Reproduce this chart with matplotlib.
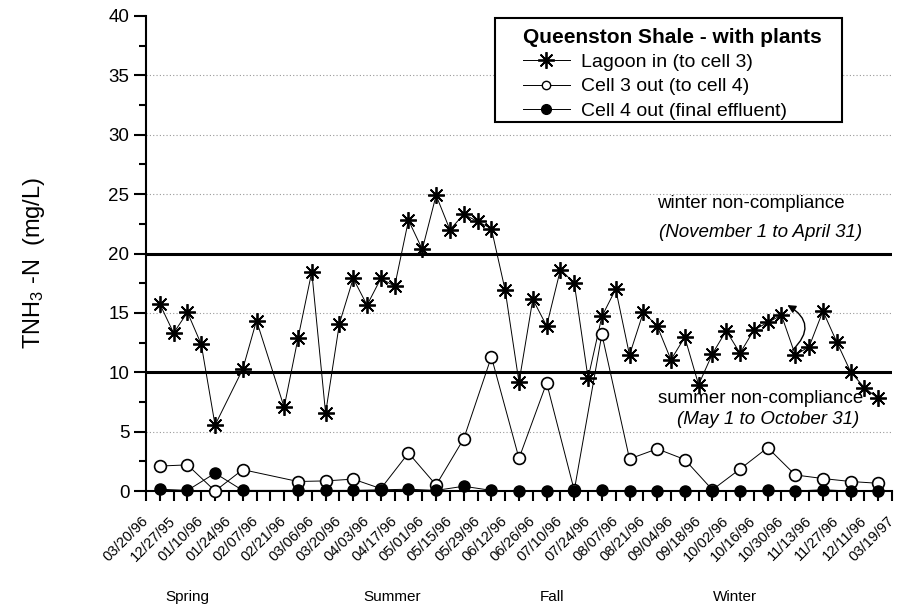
import matplotlib
matplotlib.use("Agg")
import matplotlib.pyplot as plt
from matplotlib.lines import Line2D
from matplotlib.patches import Rectangle

plt.rcParams['font.family'] = ['Liberation Sans', 'DejaVu Sans']
plt.rcParams['mathtext.default'] = 'regular'

# x tick labels (major ticks, every 2 weeks, starting one week before first sample)
date_labels = ["03/20/96", "12/27/95", "01/10/96", "01/24/96", "02/07/96", "02/21/96",
               "03/06/96", "03/20/96", "04/03/96", "04/17/96", "05/01/96", "05/15/96",
               "05/29/96", "06/12/96", "06/26/96", "07/10/96", "07/24/96", "08/07/96",
               "08/21/96", "09/04/96", "09/18/96", "10/02/96", "10/16/96", "10/30/96",
               "11/13/96", "11/27/96", "12/11/96", "03/19/97"]
seasons = ["Spring", "Summer", "Fall", "Winter"]

# lagoon in - weekly samples (week index)
lagoon_week = [0, 1, 2, 3, 4, 6, 7] + list(range(9, 53))
lagoon_in = [15.75, 13.3, 15.05, 12.35, 5.55, 10.25, 14.35,
             7.05, 12.85, 18.45, 6.55, 14.1, 17.9, 15.65, 17.9, 17.25, 22.8,
             20.35, 24.9, 22.0, 23.3, 22.7, 22.1, 16.9, 9.15, 16.15, 13.9,
             18.65, 17.5, 9.5, 14.7, 17.0, 11.45, 15.05, 13.9, 11.05, 12.95,
             8.95, 11.55, 13.5, 11.6, 13.55, 14.2, 14.8, 11.45, 12.15, 15.15,
             12.55, 10.05, 8.7, 7.8]

# cells - biweekly samples
cell_week = [0, 2, 4, 6] + list(range(10, 53, 2))
cell3_out = [2.1, 2.2, 0.0, 1.8, 0.8, 0.85, 1.0, 0.2, 3.2, 0.5, 4.4, 11.3, 2.75,
             9.1, 0.05, 13.2, 2.7, 3.55, 2.65, 0.1, 1.85, 3.65, 1.35, 1.05, 0.8, 0.65]
cell4_out = [0.15, 0.05, 1.5, 0.05, 0.05, 0.05, 0.05, 0.1, 0.15, 0.05, 0.4, 0.05, 0.0,
             0.0, 0.0, 0.05, 0.0, 0.0, 0.0, 0.0, 0.0, 0.05, 0.0, 0.1, 0.0, 0.0]

summer_limit = 10
winter_limit = 20

fig = plt.figure(figsize=(9.11, 6.11), dpi=100)
ax = fig.add_axes([146/911, 120/611, 746/911, 475/611])

star = (8, 2, 0)
ax.plot(lagoon_week, lagoon_in, color='black', lw=0.7, marker=star, ms=12, mew=1.3,
        clip_on=False, zorder=4)
ax.plot(cell_week, cell3_out, color='black', lw=0.7, marker='o', ms=8.5, mfc='white',
        mec='black', mew=1.2, clip_on=False, zorder=5)
ax.plot(cell_week, cell4_out, color='black', lw=0.7, marker='o', ms=8, mfc='black',
        mec='black', clip_on=False, zorder=6)

ax.set_xlim(-1, 53)
ax.set_ylim(0, 40)

# grid + compliance lines
for g in [5, 15, 25, 30, 35]:
    ax.axhline(g, color='#999999', lw=0.8, ls=(0, (1, 2)), zorder=1)
ax.axhline(summer_limit, color='black', lw=2.2, zorder=3)
ax.axhline(winter_limit, color='black', lw=2.2, zorder=3)

ax.spines['top'].set_visible(False)
ax.spines['right'].set_visible(False)
ax.spines['left'].set_linewidth(1.5)
ax.spines['bottom'].set_linewidth(1.5)

ax.set_yticks(range(0, 41, 5))
ax.set_yticks([y + 2.5 for y in range(0, 40, 5)], minor=True)
ax.tick_params(axis='y', which='major', length=9, width=1.5, labelsize=13.5, pad=3)
ax.tick_params(axis='y', which='minor', length=5, width=1.5)

ax.set_xticks(range(-1, 54, 2))
ax.set_xticks(range(0, 53, 2), minor=True)
ax.set_xticklabels(date_labels, rotation=45, ha='right', va='center',
                   rotation_mode='anchor', fontsize=10.5)
ax.tick_params(axis='x', which='both', length=7, width=1.5, pad=13)

ax.set_ylabel('TNH$_3$ -N  (mg/L)', fontsize=17)
ax.yaxis.set_label_coords(-0.133, 0.48)

ax.text(42.75, 24.25, 'winter non-compliance', ha='center', va='center', fontsize=13.5)
ax.text(43.5, 21.8, '(November 1 to April 31)', ha='center', va='center', fontsize=13.5,
        style='italic')
ax.text(43.5, 7.8, 'summer non-compliance', ha='center', va='center', fontsize=13.5)
ax.text(44.0, 6.0, '(May 1 to October 31)', ha='center', va='center', fontsize=13.5,
        style='italic')

ax.annotate('', xy=(45.43, 15.66), xytext=(45.8, 11.87),
            arrowprops=dict(arrowstyle='-|>', color='black', lw=1.0,
                            connectionstyle='arc3,rad=0.65', shrinkA=0, shrinkB=0,
                            mutation_scale=12))

for name, px in zip(seasons, [187, 392, 552, 735]):
    fig.text(px/911, 1 - 597/611, name, ha='center', va='center', fontsize=11)

# legend: box drawn by hand so the padding matches
box = Rectangle((495/911, 1 - 122/611), 347/911, 104/611, transform=fig.transFigure,
                facecolor='white', edgecolor='black', lw=1.5, zorder=7, clip_on=False)
ax.add_patch(box)

handles = [
    Line2D([], [], color='black', lw=0.7, marker=star, ms=12, mew=1.3),
    Line2D([], [], color='black', lw=0.7, marker='o', ms=6, mfc='white', mec='black'),
    Line2D([], [], color='black', lw=0.7, marker='o', ms=7, mfc='black', mec='black'),
]
names = ['Lagoon in (to cell 3)', 'Cell 3 out (to cell 4)', 'Cell 4 out (final effluent)']
leg = ax.legend(handles, names, loc='upper left',
                bbox_to_anchor=((523 - 146)/746, (491 - 28)/475),
                title='Queenston Shale - with plants', fontsize=14,
                title_fontproperties={'weight': 'bold', 'size': 15},
                frameon=False, handlelength=2.4, handletextpad=0.6,
                labelspacing=0.34, borderpad=0, borderaxespad=0, alignment='left')
leg.set_zorder(8)

fig.savefig('out.png', dpi=100)
